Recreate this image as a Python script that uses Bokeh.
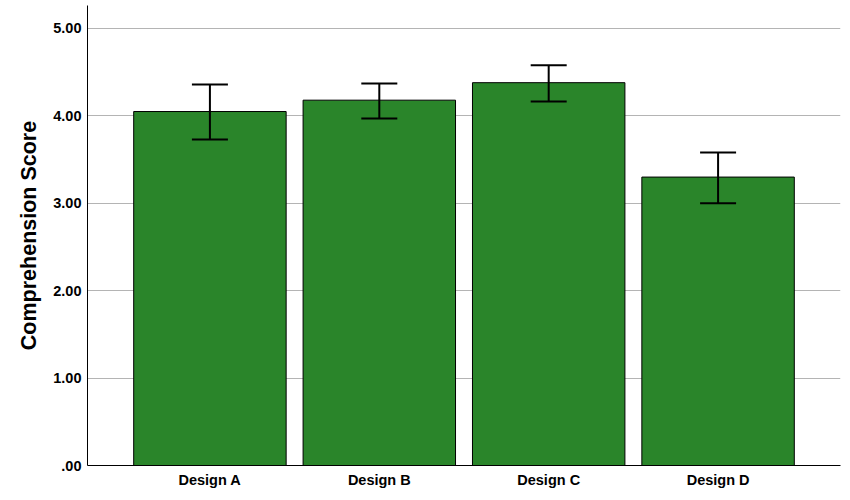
from bokeh.plotting import figure
from bokeh.models import ColumnDataSource, Range1d, FixedTicker, Whisker
from bokeh.embed import file_html
from bokeh.resources import INLINE

categories = ["Design A", "Design B", "Design C", "Design D"]
means = [4.05, 4.18, 4.38, 3.30]
upper = [4.36, 4.37, 4.58, 3.58]
lower = [3.73, 3.97, 4.165, 3.00]
y_ticks = [0, 1, 2, 3, 4, 5]
y_tick_labels = [".00", "1.00", "2.00", "3.00", "4.00", "5.00"]

xs = list(range(len(categories)))
src = ColumnDataSource(dict(x=xs, top=means, upper=upper, lower=lower))

p = figure(width=845, height=492, output_backend="svg", toolbar_location=None,
           x_range=Range1d(-0.7227, 3.7227), y_range=Range1d(0, 5.263),
           min_border_left=87, min_border_right=5, min_border_top=5, min_border_bottom=27)
p.outline_line_color = None

p.vbar(x="x", top="top", width=0.9, source=src, fill_color="#2a852a",
       line_color="black", line_width=1)

w = Whisker(base="x", upper="upper", lower="lower", source=src, line_color="black",
            line_width=2, dimension="height", level="overlay")
w.upper_head.size = 36
w.lower_head.size = 36
w.upper_head.line_width = 2
w.lower_head.line_width = 2
w.upper_head.line_color = "black"
w.lower_head.line_color = "black"
p.add_layout(w)

font = "Liberation Sans"
p.yaxis.ticker = FixedTicker(ticks=y_ticks)
p.yaxis.major_label_overrides = {t: l for t, l in zip(y_ticks, y_tick_labels)}
p.xaxis.ticker = FixedTicker(ticks=xs)
p.xaxis.major_label_overrides = {i: c for i, c in zip(xs, categories)}

for ax in (p.xaxis[0], p.yaxis[0]):
    ax.major_tick_line_color = None
    ax.minor_tick_line_color = None
    ax.major_tick_out = 0
    ax.major_tick_in = 0
    ax.axis_line_color = "black"
    ax.axis_line_width = 1
    ax.major_label_text_font = font
    ax.major_label_text_font_style = "bold"
    ax.major_label_text_font_size = "14.5px"
    ax.major_label_text_color = "black"

p.yaxis.major_label_standoff = 6
p.xaxis.major_label_standoff = 6
p.yaxis.axis_label = "Comprehension Score"
p.yaxis.axis_label_text_font = font
p.yaxis.axis_label_text_font_style = "bold"
p.yaxis.axis_label_text_font_size = "21.5px"
p.yaxis.axis_label_text_color = "black"
p.yaxis.axis_label_standoff = 9

p.xgrid.grid_line_color = None
p.ygrid.ticker = FixedTicker(ticks=[1, 2, 3, 4, 5])
p.ygrid.grid_line_color = "#b4b4b4"
p.ygrid.grid_line_width = 1
p.background_fill_color = "white"
p.border_fill_color = "white"

open("out.html", "w").write(file_html(p, INLINE))
